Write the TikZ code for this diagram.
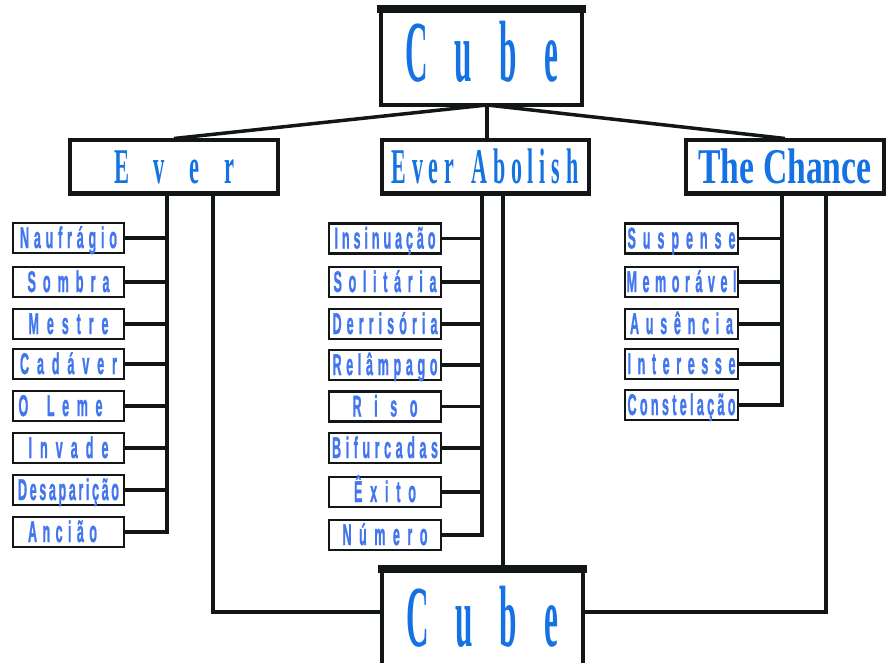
\documentclass[tikz,border=0pt]{standalone}
\usepackage{fontspec}
\usepackage{graphicx}
\newfontfamily\headfont{Liberation Serif}
\newfontfamily\leaffont{Liberation Sans}[FakeBold=1.5]
\definecolor{ink}{RGB}{18,22,22}
\definecolor{headblue}{RGB}{20,114,226}
\definecolor{leafblue}{RGB}{66,118,238}

% letter-spread a word: first letter, then \hfill before each following token
\def\sprd#1{#1\sprdnext}
\def\sprdnext#1{\ifx\relax#1\else\hfill#1\expandafter\sprdnext\fi}
% \spreadtxt{x-scale}{final width}{word}
\newcommand\spreadtxt[3]{\pgfmathsetlengthmacro\sprw{#2/#1}\scalebox{#1}[1]{\makebox[\sprw][s]{\sprd#3\relax}}}

\begin{document}
\begin{tikzpicture}[x=1pt,y=-1pt,
  headbox/.style={draw=ink, line width=4pt, fill=white, inner sep=0pt,
    text=headblue, font=\headfont\bfseries},
  cubebox/.style={headbox, minimum width=201pt, minimum height=95pt,
    font=\headfont\bfseries\fontsize{87}{87}\selectfont, text height=57pt},
  titlebox/.style={headbox, minimum height=53pt,
    font=\headfont\bfseries\fontsize{50}{50}\selectfont, text height=33pt, text depth=0pt},
  leafbox/.style={draw=ink, line width=2.5pt, fill=white, inner sep=0pt,
    minimum width=111pt, minimum height=30pt, text=leafblue,
    font=\leaffont\bfseries\fontsize{30}{30}\selectfont, text height=20pt, text depth=0pt},
  wire/.style={draw=ink, line width=4pt, line join=miter},
  twig/.style={draw=ink, line width=3.5pt}]
\useasboundingbox (0,0) rectangle (888,663);

% the two cube boxes
\node[cubebox, text depth=8pt] (cubetop) at (481.5,57.5) {\spreadtxt{0.36}{153}{Cube}};
\node[cubebox, minimum height=100pt, text depth=0pt] (cubebot) at (482,618) {\spreadtxt{0.36}{152}{Cube}};
\draw[ink, line width=8pt] ([xshift=-2pt,yshift=-1pt]cubetop.north west) -- ([xshift=2pt,yshift=-1pt]cubetop.north east);
\draw[ink, line width=8pt] ([xshift=-2pt,yshift=-3pt]cubebot.north west) -- ([xshift=2pt,yshift=-3pt]cubebot.north east);

% the three branch titles
\node[titlebox, minimum width=208pt] (ever) at (174,167) {\spreadtxt{0.45}{120}{Ever}};
\node[titlebox, minimum width=207pt] (abol) at (485,167) {\spreadtxt{0.44}{187}{Ever\ Abolish}};
\node[titlebox, minimum width=198pt] (chance) at (785,167) {\resizebox{173pt}{\height}{The Chance}};

% leaves under "Ever"
\node[leafbox] (l1) at (68.5,238) {\spreadtxt{0.42}{97}{Naufrágio}};
\node[leafbox] (l2) at (68.5,282) {\spreadtxt{0.42}{82}{Sombra}};
\node[leafbox] (l3) at (68.5,324) {\spreadtxt{0.42}{80}{Mestre}};
\node[leafbox] (l4) at (68.5,364) {\spreadtxt{0.42}{97}{Cadáver}};
\node[leafbox] (l5) at (68.5,406) {\hspace*{-16pt}\spreadtxt{0.42}{84}{O\ Leme}};
\node[leafbox] (l6) at (68.5,448) {\spreadtxt{0.42}{80}{Invade}};
\node[leafbox] (l7) at (68.5,490) {\spreadtxt{0.42}{101}{Desaparição}};
\node[leafbox] (l8) at (68.5,532) {\hspace*{-12pt}\spreadtxt{0.42}{69}{Ancião}};

% leaves under "Ever Abolish"
\node[leafbox, minimum width=112pt] (m1) at (385,238.5) {\spreadtxt{0.42}{101}{Insinuação}};
\node[leafbox, minimum width=112pt] (m2) at (385,282) {\spreadtxt{0.42}{103}{Solitária}};
\node[leafbox, minimum width=112pt] (m3) at (385,324) {\spreadtxt{0.42}{105}{Derrisória}};
\node[leafbox, minimum width=112pt] (m4) at (385,365) {\spreadtxt{0.42}{105}{Relâmpago}};
\node[leafbox, minimum width=112pt] (m5) at (385,406.5) {\spreadtxt{0.42}{65}{Riso}};
\node[leafbox, minimum width=112pt] (m6) at (385,448) {\spreadtxt{0.42}{106}{Bifurcadas}};
\node[leafbox, minimum width=112pt] (m7) at (385,492) {\spreadtxt{0.42}{62}{Êxito}};
\node[leafbox, minimum width=112pt] (m8) at (385,535) {\spreadtxt{0.42}{85}{Número}};

% leaves under "The Chance"
\node[leafbox, minimum width=113pt] (r1) at (681.5,238.5) {\spreadtxt{0.42}{108}{Suspense}};
\node[leafbox, minimum width=113pt] (r2) at (681.5,282) {\spreadtxt{0.42}{110}{Memorável}};
\node[leafbox, minimum width=113pt] (r3) at (681.5,324) {\spreadtxt{0.42}{103}{Ausência}};
\node[leafbox, minimum width=113pt] (r4) at (681.5,364) {\spreadtxt{0.42}{108}{Interesse}};
\node[leafbox, minimum width=113pt] (r5) at (681.5,405) {\spreadtxt{0.42}{108}{Constelação}};

% fan from the top cube
\coordinate (hub) at (487,105);
\draw[wire, line width=3.5pt] (hub) -- (ever.north);
\draw[wire, line width=3.5pt] (hub) -- (chance.north);
\draw[wire, line width=3.5pt] (hub) -- (hub |- abol.north);

% trunk lines
\coordinate (lt) at (167,0);
\coordinate (lc) at (213,0);
\coordinate (mt) at (482,0);
\coordinate (mc) at (503,0);
\coordinate (rt) at (782,0);
\coordinate (rc) at (826,0);

\draw[wire] (ever.south -| lt) |- (l8.east);
\foreach \i in {1,...,7} \draw[twig] (l\i.east) -- (l\i.east -| lt);
\draw[wire] (abol.south -| mt) |- (m8.east);
\foreach \i in {1,...,7} \draw[twig] (m\i.east) -- (m\i.east -| mt);
\draw[wire] (chance.south -| rt) |- (r5.east);
\foreach \i in {1,...,4} \draw[twig] (r\i.east) -- (r\i.east -| rt);

% lines down to the bottom cube
\draw[wire] (ever.south -| lc) |- ([yshift=6pt]cubebot.west);
\draw[wire] (abol.south -| mc) -- (cubebot.north -| mc);
\draw[wire] (chance.south -| rc) |- ([yshift=6pt]cubebot.east);
\end{tikzpicture}
\end{document}
